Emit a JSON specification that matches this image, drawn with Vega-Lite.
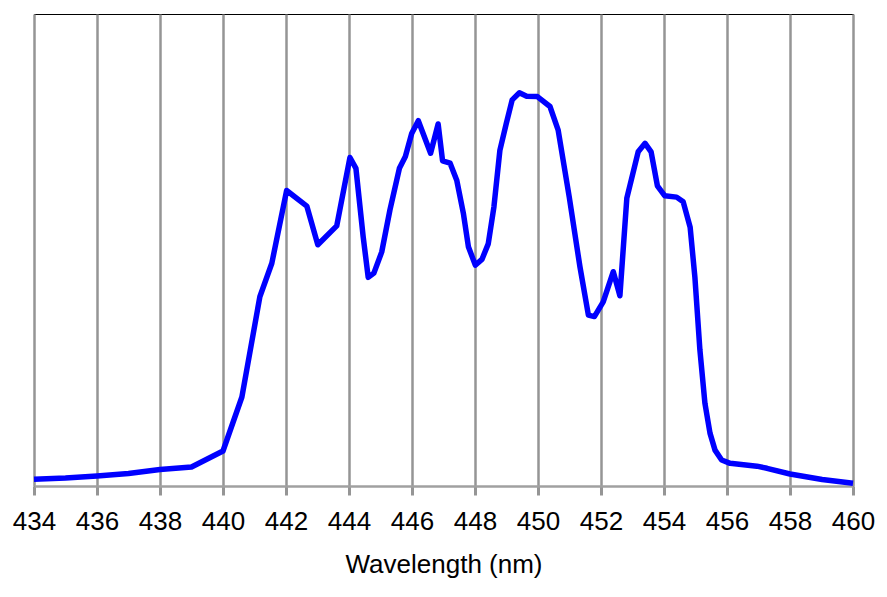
{
  "$schema": "https://vega.github.io/schema/vega-lite/v6.json",
  "autosize": "none",
  "width": 819,
  "height": 472,
  "padding": {"left": 34, "top": 14, "right": 34, "bottom": 111},
  "background": "white",
  "config": {
    "view": {"stroke": "black", "strokeWidth": 1},
    "font": "Liberation Sans"
  },
  "data": {
    "values": [
      {"nm": 434.0, "v": 1.42},
      {"nm": 435.0, "v": 1.69},
      {"nm": 436.0, "v": 2.12},
      {"nm": 437.0, "v": 2.65},
      {"nm": 438.0, "v": 3.5},
      {"nm": 439.0, "v": 4.03},
      {"nm": 440.0, "v": 7.42},
      {"nm": 440.6, "v": 18.86},
      {"nm": 441.17, "v": 40.1},
      {"nm": 441.55, "v": 47.2},
      {"nm": 442.02, "v": 62.6},
      {"nm": 442.66, "v": 59.3},
      {"nm": 443.01, "v": 51.1},
      {"nm": 443.61, "v": 55.1},
      {"nm": 444.03, "v": 69.6},
      {"nm": 444.22, "v": 67.3},
      {"nm": 444.45, "v": 52.8},
      {"nm": 444.61, "v": 44.2},
      {"nm": 444.79, "v": 45.1},
      {"nm": 445.04, "v": 49.6},
      {"nm": 445.3, "v": 58.5},
      {"nm": 445.6, "v": 67.3},
      {"nm": 445.79, "v": 69.8},
      {"nm": 445.99, "v": 74.7},
      {"nm": 446.2, "v": 77.4},
      {"nm": 446.59, "v": 70.5},
      {"nm": 446.83, "v": 76.7},
      {"nm": 446.97, "v": 68.9},
      {"nm": 447.21, "v": 68.4},
      {"nm": 447.42, "v": 64.8},
      {"nm": 447.63, "v": 57.8},
      {"nm": 447.79, "v": 50.7},
      {"nm": 448.01, "v": 46.8},
      {"nm": 448.22, "v": 48.0},
      {"nm": 448.42, "v": 51.3},
      {"nm": 448.6, "v": 59.1},
      {"nm": 448.79, "v": 71.1},
      {"nm": 448.99, "v": 76.7},
      {"nm": 449.18, "v": 81.8},
      {"nm": 449.41, "v": 83.3},
      {"nm": 449.64, "v": 82.6},
      {"nm": 449.98, "v": 82.5},
      {"nm": 450.38, "v": 80.4},
      {"nm": 450.64, "v": 75.4},
      {"nm": 450.99, "v": 61.3},
      {"nm": 451.33, "v": 46.5},
      {"nm": 451.6, "v": 36.2},
      {"nm": 451.79, "v": 35.9},
      {"nm": 452.07, "v": 39.0},
      {"nm": 452.39, "v": 45.4},
      {"nm": 452.6, "v": 40.3},
      {"nm": 452.82, "v": 61.0},
      {"nm": 453.18, "v": 70.8},
      {"nm": 453.4, "v": 72.6},
      {"nm": 453.59, "v": 70.8},
      {"nm": 453.79, "v": 63.6},
      {"nm": 454.02, "v": 61.5},
      {"nm": 454.4, "v": 61.2},
      {"nm": 454.61, "v": 60.2},
      {"nm": 454.83, "v": 54.8},
      {"nm": 454.98, "v": 44.3},
      {"nm": 455.14, "v": 28.8},
      {"nm": 455.3, "v": 17.5},
      {"nm": 455.46, "v": 11.2},
      {"nm": 455.62, "v": 7.6},
      {"nm": 455.83, "v": 5.5},
      {"nm": 456.1, "v": 4.8},
      {"nm": 456.95, "v": 4.2},
      {"nm": 457.27, "v": 3.75},
      {"nm": 458.0, "v": 2.54},
      {"nm": 459.02, "v": 1.38},
      {"nm": 460.0, "v": 0.57}
    ]
  },
  "mark": {"type": "line", "color": "#0000FF", "strokeWidth": 5.5, "strokeJoin": "round", "strokeCap": "butt", "interpolate": "linear"},
  "encoding": {
    "x": {
      "field": "nm",
      "type": "quantitative",
      "scale": {"domain": [434, 460], "nice": false, "zero": false},
      "axis": {
        "title": "Wavelength (nm)",
        "values": [434, 436, 438, 440, 442, 444, 446, 448, 450, 452, 454, 456, 458, 460],
        "format": "d",
        "grid": true,
        "gridColor": "#959595",
        "gridWidth": 2.5,
        "gridOpacity": 1,
        "domainColor": "#a0a0a0",
        "domainWidth": 2.5,
        "tickColor": "#959595",
        "tickWidth": 3,
        "tickSize": 9,
        "labelOverlap": false,
        "labelBound": false,
        "labelFlush": false,
        "labelFontSize": 26,
        "labelColor": "black",
        "labelPadding": 13,
        "labelFont": "Liberation Sans",
        "titleFontSize": 26,
        "titleFont": "Liberation Sans",
        "titleFontWeight": "normal",
        "titleColor": "black",
        "titlePadding": 17
      }
    },
    "y": {
      "field": "v",
      "type": "quantitative",
      "scale": {"domain": [0, 100], "nice": false},
      "axis": null
    }
  }
}
